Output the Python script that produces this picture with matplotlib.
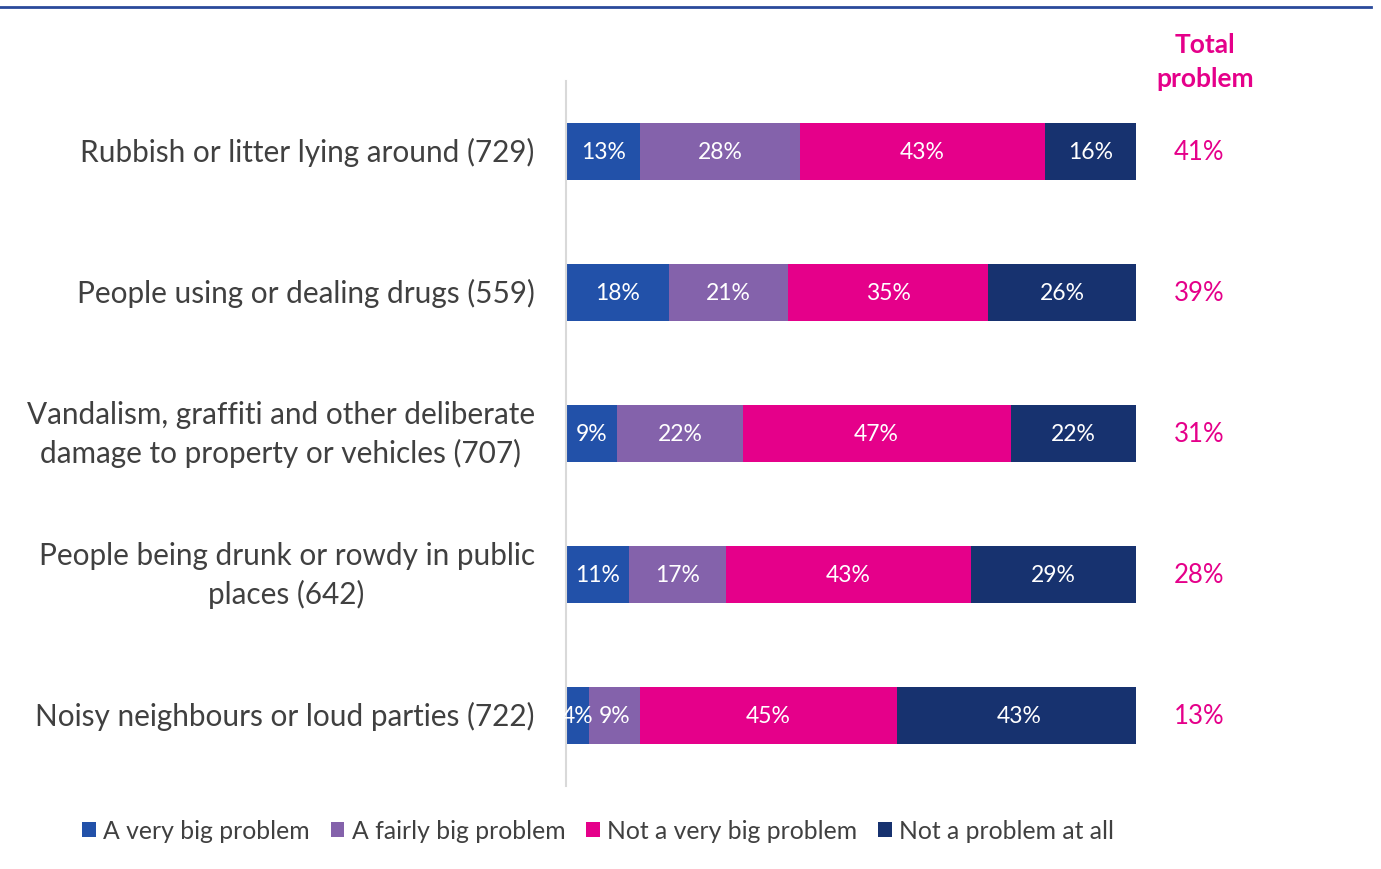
import numpy as np
import matplotlib.pyplot as plt
from matplotlib.lines import Line2D

plt.rcParams['font.family'] = ['Lato', 'DejaVu Sans']

# Dados do gráfico
categorias = [
    'Rubbish or litter lying around (729)',
    'People using or dealing drugs (559)',
    'Vandalism, graffiti and other deliberate\ndamage to property or vehicles (707)',
    'People being drunk or rowdy in public\nplaces (642)',
    'Noisy neighbours or loud parties (722)',
]
muito_grande = [13, 18, 9, 11, 4]
bastante_grande = [28, 21, 22, 17, 9]
nao_muito_grande = [43, 35, 47, 43, 45]
nenhum = [16, 26, 22, 29, 43]
total_problema = [41, 39, 31, 28, 13]

series = [
    ('A very big problem', muito_grande, '#2251A9'),
    ('A fairly big problem', bastante_grande, '#8462AB'),
    ('Not a very big problem', nao_muito_grande, '#E5008A'),
    ('Not a problem at all', nenhum, '#17326F'),
]
rosa = '#E5008A'
cinza_texto = '#404040'

fig = plt.figure(figsize=(13.81, 8.70), dpi=100)
ax = fig.add_axes([566 / 1381, 83 / 870, 570 / 1381, 705 / 870])

y = np.arange(len(categorias))
esquerda = np.zeros(len(categorias))
for nome, valores, cor in series:
    valores = np.array(valores, dtype=float)
    ax.barh(y, valores, left=esquerda, height=0.4, color=cor, label=nome)
    for yi, l, v in zip(y, esquerda, valores):
        ax.text(l + v / 2, yi, f'{v:.0f}%', ha='center', va='center',
                color='white', fontsize=16.5)
    esquerda += valores

ax.set_xlim(0, 100)
ax.set_ylim(len(categorias) - 0.5, -0.5)
ax.set_xticks([])
ax.set_yticks([])
for lado in ['top', 'right', 'bottom']:
    ax.spines[lado].set_visible(False)
ax.spines['left'].set_color('#D9D9D9')
ax.spines['left'].set_linewidth(1.5)

# rótulos das categorias
for yi, cat in zip(y, categorias):
    ax.text(-5.5, yi, cat, ha='right', va='center', multialignment='center',
            fontsize=21.4, color=cinza_texto, linespacing=1.42)

# coluna de total
for yi, t in zip(y, total_problema):
    ax.text(111, yi, f'{t}%', ha='center', va='center', color=rosa, fontsize=18.5)
fig.text(1205 / 1381, 1 - 62 / 870, 'Total\nproblem', ha='center', va='center',
         color=rosa, fontsize=19, fontweight='bold', linespacing=1.5)

# linha azul no topo
fig.add_artist(Line2D([0, 1371 / 1381], [1 - 8 / 870, 1 - 8 / 870],
                      color='#2A4A9B', linewidth=2))

fig.legend(loc='center left', bbox_to_anchor=(82 / 1381, 1 - 832 / 870), ncol=4,
           frameon=False, fontsize=17.8, handlelength=0.55, handleheight=0.55,
           handletextpad=0.3, columnspacing=0.85, labelcolor=cinza_texto,
           borderpad=0, borderaxespad=0)

fig.savefig('out.png', dpi=100)
